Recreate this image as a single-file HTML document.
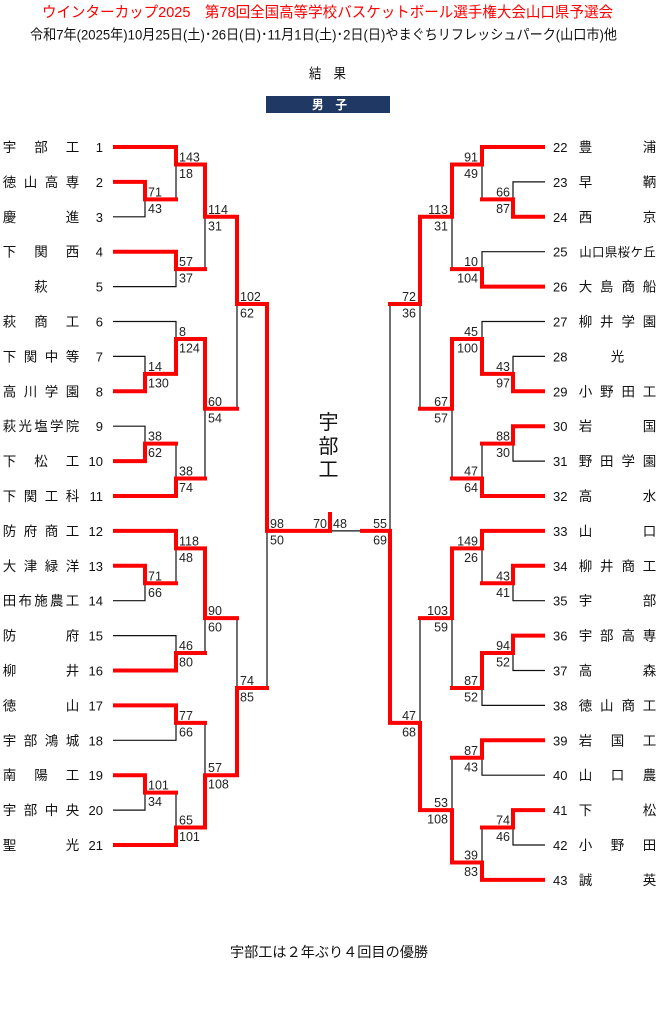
<!DOCTYPE html>
<html><head><meta charset="utf-8"><style>
html,body{margin:0;padding:0;background:#fff;}
svg{display:block;}
text{font-family:"Liberation Sans","Noto Sans CJK JP",sans-serif;}
.nm{font-size:13.5px;fill:#111;}
.no{font-size:13px;fill:#111;}
.sc{font-size:12.5px;fill:#222;}
.r{text-anchor:end;}
.m{text-anchor:middle;}
</style></head><body>
<svg width="658" height="1024" viewBox="0 0 658 1024" xmlns="http://www.w3.org/2000/svg">
<rect width="658" height="1024" fill="#fff"/>

<!-- Header -->
<text x="42" y="17" font-size="15" fill="#ff0000" textLength="571" lengthAdjust="spacingAndGlyphs">ウインターカップ2025　第78回全国高等学校バスケットボール選手権大会山口県予選会</text>
<text x="30" y="39.5" font-size="14" fill="#111" textLength="587" lengthAdjust="spacingAndGlyphs">令和7年(2025年)10月25日(土)･26日(日)･11月1日(土)･2日(日)やまぐちリフレッシュパーク(山口市)他</text>
<text x="309" y="78.5" font-size="14" fill="#111" textLength="37" lengthAdjust="spacingAndGlyphs">結　果</text>
<rect x="266" y="96" width="124" height="17" fill="#1f3864"/>
<text x="312" y="109" font-size="12.5" font-weight="bold" fill="#fff" textLength="35" lengthAdjust="spacingAndGlyphs">男　子</text>

<!-- Black lines -->
<g fill="none" stroke="#111" stroke-width="1.2">
<path d="M113,216.8 H145 V199.35"/>
<path d="M176,164.45 V199.35"/>
<path d="M113,286.6 H176 V269.15"/>
<path d="M205,216.8 V269.15"/>
<path d="M113,321.5 H176 V338.95"/>
<path d="M113,356.4 H145 V373.85"/>
<path d="M113,426.2 H145 V443.65"/>
<path d="M176,443.65 V478.55"/>
<path d="M205,408.75 V478.55"/>
<path d="M237,304.05 V408.75"/>
<path d="M113,600.7 H145 V583.25"/>
<path d="M176,548.35 V583.25"/>
<path d="M113,635.6 H176 V653.05"/>
<path d="M205,618.15 V653.05"/>
<path d="M237,618.15 V687.95"/>
<path d="M267,530.9 V687.95"/>
<path d="M113,740.3 H176 V722.85"/>
<path d="M205,722.85 V775.2"/>
<path d="M113,810.1 H145 V792.65"/>
<path d="M176,792.65 V827.55"/>
<path d="M330,530.9 H360"/>

<path d="M545,181.9 H513 V199.35"/>
<path d="M482,164.45 V199.35"/>
<path d="M545,251.7 H482 V269.15"/>
<path d="M452,216.8 V269.15"/>
<path d="M420,304.05 V408.75"/>
<path d="M390,304.05 V530.9"/>
<path d="M545,321.5 H482 V338.95"/>
<path d="M545,356.4 H513 V373.85"/>
<path d="M545,461.1 H513 V443.65"/>
<path d="M482,443.65 V478.55"/>
<path d="M452,408.75 V478.55"/>
<path d="M545,600.7 H513 V583.25"/>
<path d="M482,548.35 V583.25"/>
<path d="M545,670.5 H513 V653.05"/>
<path d="M545,705.4 H482 V687.95"/>
<path d="M452,618.15 V687.95"/>
<path d="M420,618.15 V722.85"/>
<path d="M545,775.2 H482 V757.75"/>
<path d="M452,757.75 V810.1"/>
<path d="M545,845 H513 V827.55"/>
<path d="M482,827.55 V862.45"/>
</g>

<!-- Red lines -->
<g fill="none" stroke="#ff0000" stroke-width="4" stroke-linecap="square" stroke-linejoin="miter">
<path d="M115,147 H176 V164.45 H205 V216.8 H237 V304.05 H267 V530.9 H330 V514"/>
<path d="M115,181.9 H145 V199.35 H176"/>
<path d="M115,251.7 H176 V269.15 H205"/>
<path d="M115,391.3 H145 V373.85 H176 V338.95 H205 V408.75 H237"/>
<path d="M115,461.1 H145 V443.65 H176"/>
<path d="M115,496 H176 V478.55 H205"/>
<path d="M115,530.9 H176 V548.35 H205 V618.15 H237"/>
<path d="M115,565.8 H145 V583.25 H176"/>
<path d="M115,670.5 H176 V653.05 H205"/>
<path d="M115,705.4 H176 V722.85 H205"/>
<path d="M115,775.2 H145 V792.65 H176"/>
<path d="M115,845 H176 V827.55 H205 V775.2 H237 V687.95 H267"/>

<path d="M543,147 H482 V164.45 H452 V216.8 H420 V304.05 H390"/>
<path d="M543,216.8 H513 V199.35 H482"/>
<path d="M543,286.6 H482 V269.15 H452"/>
<path d="M543,391.3 H513 V373.85 H482 V338.95 H452 V408.75 H420"/>
<path d="M543,426.2 H513 V443.65 H482"/>
<path d="M543,496 H482 V478.55 H452"/>
<path d="M543,530.9 H482 V548.35 H452 V618.15 H420"/>
<path d="M543,565.8 H513 V583.25 H482"/>
<path d="M543,635.6 H513 V653.05 H482 V687.95 H452"/>
<path d="M543,740.3 H482 V757.75 H452"/>
<path d="M543,810.1 H513 V827.55 H482"/>
<path d="M543,879.9 H482 V862.45 H452 V810.1 H420 V722.85 H390 V530.9 H362"/>
</g>

<!-- Left team names -->
<g class="nm m">
<text x="9.5 41 72.5" y="152">宇部工</text>
<text x="9.5 30.5 51.5 72.5" y="186.9">徳山高専</text>
<text x="9.5 72.5" y="221.8">慶進</text>
<text x="9.5 41 72.5" y="256.7">下関西</text>
<text x="41" y="291.6">萩</text>
<text x="9.5 41 72.5" y="326.5">萩商工</text>
<text x="9.5 30.5 51.5 72.5" y="361.4">下関中等</text>
<text x="9.5 30.5 51.5 72.5" y="396.3">高川学園</text>
<text x="9.5 25.25 41 56.75 72.5" y="431.2">萩光塩学院</text>
<text x="9.5 41 72.5" y="466.1">下松工</text>
<text x="9.5 30.5 51.5 72.5" y="501">下関工科</text>
<text x="9.5 30.5 51.5 72.5" y="535.9">防府商工</text>
<text x="9.5 30.5 51.5 72.5" y="570.8">大津緑洋</text>
<text x="9.5 25.25 41 56.75 72.5" y="605.7">田布施農工</text>
<text x="9.5 72.5" y="640.6">防府</text>
<text x="9.5 72.5" y="675.5">柳井</text>
<text x="9.5 72.5" y="710.4">徳山</text>
<text x="9.5 30.5 51.5 72.5" y="745.3">宇部鴻城</text>
<text x="9.5 41 72.5" y="780.2">南陽工</text>
<text x="9.5 30.5 51.5 72.5" y="815.1">宇部中央</text>
<text x="9.5 72.5" y="850">聖光</text>
</g>
<!-- Left numbers -->
<g class="no r">
<text x="103" y="152">1</text>
<text x="103" y="186.9">2</text>
<text x="103" y="221.8">3</text>
<text x="103" y="256.7">4</text>
<text x="103" y="291.6">5</text>
<text x="103" y="326.5">6</text>
<text x="103" y="361.4">7</text>
<text x="103" y="396.3">8</text>
<text x="103" y="431.2">9</text>
<text x="103" y="466.1">10</text>
<text x="103" y="501">11</text>
<text x="103" y="535.9">12</text>
<text x="103" y="570.8">13</text>
<text x="103" y="605.7">14</text>
<text x="103" y="640.6">15</text>
<text x="103" y="675.5">16</text>
<text x="103" y="710.4">17</text>
<text x="103" y="745.3">18</text>
<text x="103" y="780.2">19</text>
<text x="103" y="815.1">20</text>
<text x="103" y="850">21</text>
</g>

<!-- Right numbers -->
<g class="no">
<text x="553" y="152">22</text>
<text x="553" y="186.9">23</text>
<text x="553" y="221.8">24</text>
<text x="553" y="256.7">25</text>
<text x="553" y="291.6">26</text>
<text x="553" y="326.5">27</text>
<text x="553" y="361.4">28</text>
<text x="553" y="396.3">29</text>
<text x="553" y="431.2">30</text>
<text x="553" y="466.1">31</text>
<text x="553" y="501">32</text>
<text x="553" y="535.9">33</text>
<text x="553" y="570.8">34</text>
<text x="553" y="605.7">35</text>
<text x="553" y="640.6">36</text>
<text x="553" y="675.5">37</text>
<text x="553" y="710.4">38</text>
<text x="553" y="745.3">39</text>
<text x="553" y="780.2">40</text>
<text x="553" y="815.1">41</text>
<text x="553" y="850">42</text>
<text x="553" y="884.9">43</text>
</g>
<!-- Right team names -->
<g class="nm m">
<text x="585.5 649.5" y="152">豊浦</text>
<text x="585.5 649.5" y="186.9">早鞆</text>
<text x="585.5 649.5" y="221.8">西京</text>
<text x="585.5 598.3 611.1 623.9 636.7 649.5" y="256.7" style="font-size:12.5px">山口県桜ケ丘</text>
<text x="585.5 606.8 628.2 649.5" y="291.6">大島商船</text>
<text x="585.5 606.8 628.2 649.5" y="326.5">柳井学園</text>
<text x="617.5" y="361.4">光</text>
<text x="585.5 606.8 628.2 649.5" y="396.3">小野田工</text>
<text x="585.5 649.5" y="431.2">岩国</text>
<text x="585.5 606.8 628.2 649.5" y="466.1">野田学園</text>
<text x="585.5 649.5" y="501">高水</text>
<text x="585.5 649.5" y="535.9">山口</text>
<text x="585.5 606.8 628.2 649.5" y="570.8">柳井商工</text>
<text x="585.5 649.5" y="605.7">宇部</text>
<text x="585.5 606.8 628.2 649.5" y="640.6">宇部高専</text>
<text x="585.5 649.5" y="675.5">高森</text>
<text x="585.5 606.8 628.2 649.5" y="710.4">徳山商工</text>
<text x="585.5 617.5 649.5" y="745.3">岩国工</text>
<text x="585.5 617.5 649.5" y="780.2">山口農</text>
<text x="585.5 649.5" y="815.1">下松</text>
<text x="585.5 617.5 649.5" y="850">小野田</text>
<text x="585.5 649.5" y="884.9">誠英</text>
</g>

<!-- Left scores -->
<g class="sc">
<text x="148" y="196.35">71</text><text x="148" y="212.85">43</text>
<text x="148" y="370.85">14</text><text x="148" y="387.35">130</text>
<text x="148" y="440.65">38</text><text x="148" y="457.15">62</text>
<text x="148" y="580.25">71</text><text x="148" y="596.75">66</text>
<text x="148" y="789.65">101</text><text x="148" y="806.15">34</text>

<text x="179" y="161.45">143</text><text x="179" y="177.95">18</text>
<text x="179" y="266.15">57</text><text x="179" y="282.65">37</text>
<text x="179" y="335.95">8</text><text x="179" y="352.45">124</text>
<text x="179" y="475.55">38</text><text x="179" y="492.05">74</text>
<text x="179" y="545.35">118</text><text x="179" y="561.85">48</text>
<text x="179" y="650.05">46</text><text x="179" y="666.55">80</text>
<text x="179" y="719.85">77</text><text x="179" y="736.35">66</text>
<text x="179" y="824.55">65</text><text x="179" y="841.05">101</text>

<text x="208" y="213.8">114</text><text x="208" y="230.3">31</text>
<text x="208" y="405.75">60</text><text x="208" y="422.25">54</text>
<text x="208" y="615.15">90</text><text x="208" y="631.65">60</text>
<text x="208" y="772.2">57</text><text x="208" y="788.7">108</text>

<text x="240" y="301.05">102</text><text x="240" y="317.55">62</text>
<text x="240" y="684.95">74</text><text x="240" y="701.45">85</text>

<text x="270" y="527.9">98</text><text x="270" y="544.4">50</text>

<text x="327" y="527.9" class="r">70</text>
<text x="333" y="527.9">48</text>
</g>

<!-- Right scores -->
<g class="sc r">
<text x="510" y="196.35">66</text><text x="510" y="212.85">87</text>
<text x="510" y="370.85">43</text><text x="510" y="387.35">97</text>
<text x="510" y="440.65">88</text><text x="510" y="457.15">30</text>
<text x="510" y="580.25">43</text><text x="510" y="596.75">41</text>
<text x="510" y="650.05">94</text><text x="510" y="666.55">52</text>
<text x="510" y="824.55">74</text><text x="510" y="841.05">46</text>

<text x="478" y="161.45">91</text><text x="478" y="177.95">49</text>
<text x="478" y="266.15">10</text><text x="478" y="282.65">104</text>
<text x="478" y="335.95">45</text><text x="478" y="352.45">100</text>
<text x="478" y="475.55">47</text><text x="478" y="492.05">64</text>
<text x="478" y="545.35">149</text><text x="478" y="561.85">26</text>
<text x="478" y="684.95">87</text><text x="478" y="701.45">52</text>
<text x="478" y="754.75">87</text><text x="478" y="771.25">43</text>
<text x="478" y="859.45">39</text><text x="478" y="875.95">83</text>

<text x="448" y="213.8">113</text><text x="448" y="230.3">31</text>
<text x="448" y="405.75">67</text><text x="448" y="422.25">57</text>
<text x="448" y="615.15">103</text><text x="448" y="631.65">59</text>
<text x="448" y="807.1">53</text><text x="448" y="823.6">108</text>

<text x="416" y="301.05">72</text><text x="416" y="317.55">36</text>
<text x="416" y="719.85">47</text><text x="416" y="736.35">68</text>

<text x="387" y="527.9">55</text><text x="387" y="544.4">69</text>
</g>

<!-- Champion -->
<g font-size="20" fill="#111" class="m">
<text x="328.5" y="429">宇</text>
<text x="328.5" y="453">部</text>
<text x="328.5" y="476">工</text>
</g>

<!-- Footer -->
<text x="230" y="957" font-size="14" fill="#111" textLength="198" lengthAdjust="spacingAndGlyphs">宇部工は２年ぶり４回目の優勝</text>
</svg>
</body></html>
